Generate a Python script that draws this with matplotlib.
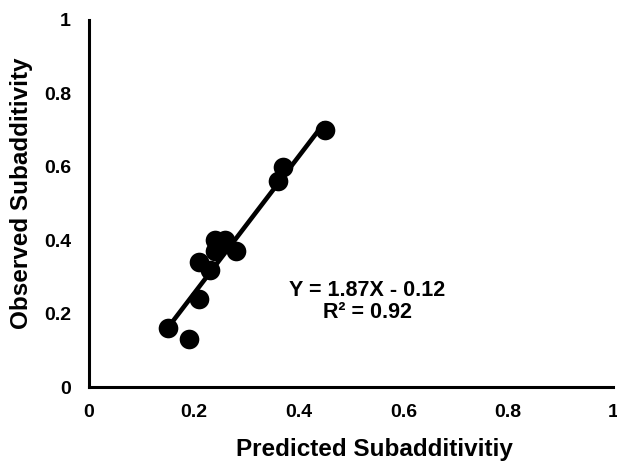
import matplotlib
matplotlib.use("Agg")
import matplotlib.pyplot as plt
import numpy as np

plt.rcParams['font.family'] = ['Liberation Sans', 'DejaVu Sans']
plt.rcParams['font.weight'] = 'bold'

predicted = [0.15, 0.19, 0.21, 0.21, 0.23, 0.24, 0.24, 0.26, 0.28, 0.36, 0.37, 0.45]
observed = [0.16, 0.13, 0.24, 0.34, 0.32, 0.40, 0.37, 0.40, 0.37, 0.56, 0.60, 0.70]
slope = 1.87
intercept = -0.12
eq_line1 = "Y = 1.87X - 0.12"
eq_line2 = "R² = 0.92"
ticks = [0, 0.2, 0.4, 0.6, 0.8, 1]
tick_labels = ["0", "0.2", "0.4", "0.6", "0.8", "1"]

fig = plt.figure(figsize=(6.17, 4.62), dpi=100)
ax = fig.add_axes([89/617, 1-387/462, (613-89)/617, (387-20)/462])

ax.scatter(predicted, observed, s=200, color='black', zorder=3, linewidths=0)
xl = np.array([min(predicted), max(predicted)])
ax.plot(xl, slope*xl + intercept, color='black', lw=3.3, zorder=2, solid_capstyle='butt')

ax.set_xlim(0, 1)
ax.set_ylim(0, 1)
ax.set_xticks(ticks)
ax.set_xticklabels(tick_labels)
ax.set_yticks(ticks)
ax.set_yticklabels(tick_labels)
ax.tick_params(length=0, labelsize=14)
ax.tick_params(axis='y', pad=13)
ax.tick_params(axis='x', pad=12)
for lab in ax.get_xticklabels() + ax.get_yticklabels():
    lab.set_fontweight('bold')
ax.spines['top'].set_visible(False)
ax.spines['right'].set_visible(False)
for s in ['left', 'bottom']:
    ax.spines[s].set_linewidth(2.2)

ax.set_xlabel("Predicted Subadditivitiy", fontsize=17.5, fontweight='bold')
ax.set_ylabel("Observed Subadditivity", fontsize=17.5, fontweight='bold')
ax.xaxis.set_label_coords(0.544, -0.139)
ax.yaxis.set_label_coords(-0.107, 0.529)

ax.text(0.531, 0.2635, eq_line1, ha='center', va='center', fontsize=15.5, fontweight='bold')
ax.text(0.531, 0.202, eq_line2, ha='center', va='center', fontsize=15.5, fontweight='bold')

fig.savefig("out.png", dpi=100)
